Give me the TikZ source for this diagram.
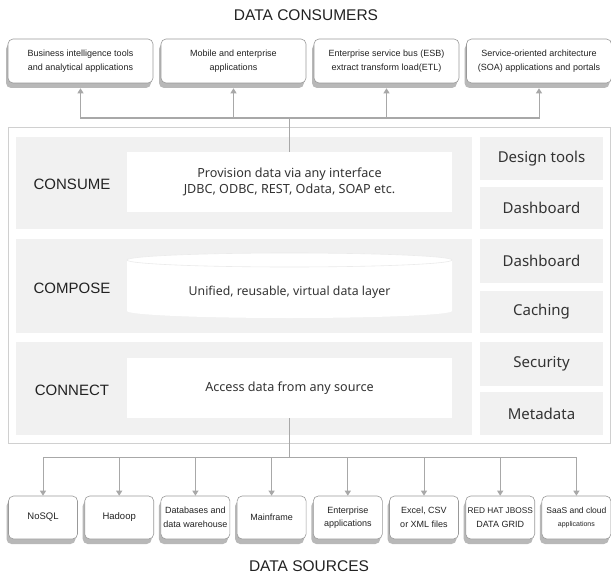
\documentclass[tikz,border=0pt]{standalone}
\usepackage{fontspec}
\setmainfont{Liberation Sans}
\newfontfamily\kfont{Noto Sans}
\usetikzlibrary{arrows.meta,shadows,shapes.geometric}
\definecolor{band}{HTML}{F1F1F1}
\definecolor{frameC}{HTML}{D0D0D0}
\definecolor{lineC}{HTML}{A8A8A8}
\definecolor{txt}{HTML}{222222}
\definecolor{ktxt}{HTML}{333333}
\tikzset{
  topbox/.style={draw=black!40, line width=0.6pt, fill=white, rounded corners=5pt,
    minimum width=145pt, minimum height=44pt, inner sep=0pt, align=center,
    font=\fontsize{9}{13.5}\selectfont, text=txt,
    general shadow={fill=black!28, shadow xshift=-2pt, shadow yshift=-5pt}},
  botbox/.style={topbox, minimum width=69pt, minimum height=43pt},
  bandbox/.style={fill=band, draw=none, inner sep=0pt},
  cell/.style={fill=band, draw=none, minimum width=123pt, inner sep=0pt,
    font=\kfont\fontsize{15}{18}\selectfont, text=ktxt},
  wbox/.style={fill=white, draw=none, minimum width=325pt, inner sep=0pt, align=center,
    font=\kfont\fontsize{12.6}{16}\selectfont, text=ktxt},
  layerlbl/.style={font=\fontsize{15}{18}\selectfont, text=txt},
  title/.style={font=\fontsize{15.5}{18}\selectfont, text=txt},
  conn/.style={draw=lineC, line width=1pt},
  tip/.style={-{Triangle[width=6pt,length=5pt]}}
}
\begin{document}
\begin{tikzpicture}[x=1pt,y=-1pt]
\useasboundingbox (0,0) rectangle (611,578);
\fill[white] (0,0) rectangle (611,578);

\node[title] (tcons) at (306,15) {DATA CONSUMERS};
\node[title] (tsrc) at (309,566) {DATA SOURCES};

% top consumer boxes
\node[topbox] (t1) at (80.5,61) {Business intelligence tools\\and analytical applications};
\node[topbox] (t2) at (233.5,61) {Mobile and enterprise\\applications};
\node[topbox] (t3) at (386.5,61) {Enterprise service bus (ESB)\\extract transform load(ETL)};
\node[topbox] (t4) at (539,61) {Service-oriented architecture\\(SOA) applications and portals};

% frame
\node[draw=frameC, line width=0.8pt, fill=white, minimum width=602pt, minimum height=316pt, inner sep=0pt] (frame) at (309,285) {};

% bands
\node[bandbox, minimum width=456pt, minimum height=92pt] (bcons) at (244,183) {};
\node[bandbox, minimum width=456pt, minimum height=94pt] (bcomp) at (244,286) {};
\node[bandbox, minimum width=456pt, minimum height=93pt] (bconn) at (244,388.5) {};

\node[layerlbl] (lcons) at (72,184) {CONSUME};
\node[layerlbl] (lcomp) at (72,288) {COMPOSE};
\node[layerlbl] (lconn) at (72,390) {CONNECT};

% right column
\node[cell, minimum height=43pt] (c1) at (541.5,158.5) {Design tools};
\node[cell, minimum height=42pt] (c2) at (541.5,208) {Dashboard};
\node[cell, minimum height=44pt] (c3) at (541.5,261) {Dashboard};
\node[cell, minimum height=42pt] (c4) at (541.5,312) {Caching};
\node[cell, minimum height=44pt] (c5) at (541.5,364) {Security};
\node[cell, minimum height=43pt] (c6) at (541.5,413.5) {Metadata};

% white boxes
\node[wbox, minimum height=60pt] (wcons) at (289.5,182) {Provision data via any interface\\JDBC, ODBC, REST, Odata, SOAP etc.};
\node[wbox, minimum height=60pt] (wconn) at (289.5,388) {Access data from any source};

% cylinder
\fill[white] (127,260) arc[start angle=180,end angle=360,x radius=162.5,y radius=7]
  -- (452,311) arc[start angle=0,end angle=-180,x radius=162.5,y radius=-7] -- cycle;
\fill[white] (289.5,260) ellipse[x radius=162.5, y radius=7];
\draw[black!8, line width=0.6pt] (289.5,260) ellipse[x radius=162.5, y radius=7];
\node[font=\kfont\fontsize{12.3}{15}\selectfont, text=ktxt] (wcomp) at (289.5,292) {Unified, reusable, virtual data layer};

% top connectors
\coordinate (hub) at (wcons.north |- 0,118);
\draw[conn] (hub) -- (wcons.north);
\draw[conn, tip, shorten >=5pt] (hub) -| (t1.south);
\draw[conn, tip, shorten >=5pt] (hub) -| (t2.south);
\draw[conn, tip, shorten >=5pt] (hub) -| (t3.south);
\draw[conn, tip, shorten >=5pt] (hub) -| (t4.south);

% bottom boxes
\node[botbox] (s1) at (43,517.5) {\fontsize{9.5}{13}\selectfont NoSQL};
\node[botbox] (s2) at (119.2,517.5) {\fontsize{9.5}{13}\selectfont Hadoop};
\node[botbox] (s3) at (195.4,517.5) {Databases and\\data warehouse};
\node[botbox] (s4) at (271.6,517.5) {Mainframe};
\node[botbox] (s5) at (347.8,517.5) {Enterprise\\applications};
\node[botbox] (s6) at (424,517.5) {Excel, CSV\\or XML files};
\node[botbox] (s7) at (500.2,517.5) {\fontsize{8.3}{13}\selectfont RED HAT JBOSS\\DATA GRID};
\node[botbox] (s8) at (576.4,517.5) {\fontsize{8.5}{13}\selectfont SaaS and cloud\\\fontsize{7}{9}\selectfont applications};

\coordinate (bhub) at (wconn.south |- 0,457);
\draw[conn] (wconn.south) -- (bhub);
\foreach \s in {s1,s2,s3,s4,s5,s6,s7,s8}{
  \draw[conn, tip] (bhub) -| (\s.north);
}
\end{tikzpicture}
\end{document}
